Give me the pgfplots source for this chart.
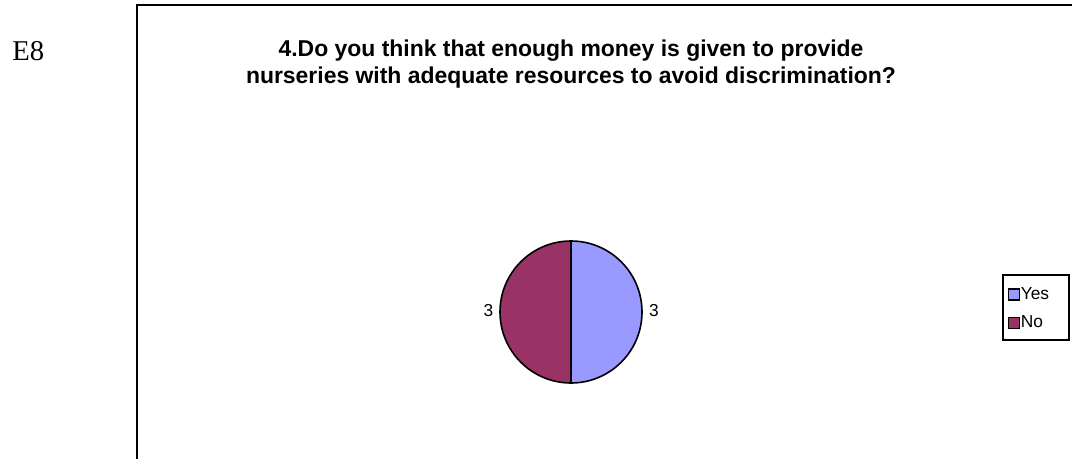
\documentclass[border=0pt]{standalone}
\usepackage{pgfplots}
\pgfplotsset{compat=1.18}
\usepackage{pgfplotstable}
\usepackage{fontspec}
\setmainfont{Liberation Sans}
\newfontfamily\timesfont{Liberation Serif}
\definecolor{yescol}{RGB}{153,153,255}
\definecolor{nocol}{RGB}{153,51,102}
\pgfplotstableread{
label value
Yes 3
No 3
}\piedata
\begin{document}
\begin{tikzpicture}
\pgfplotstablegetelem{0}{value}\of\piedata \let\vyes\pgfplotsretval
\pgfplotstablegetelem{1}{value}\of\piedata \let\vno\pgfplotsretval
\pgfmathsetmacro{\tot}{\vyes+\vno}
\pgfmathsetmacro{\aA}{90}
\pgfmathsetmacro{\aB}{90-360*\vyes/\tot}
\pgfmathsetmacro{\aC}{\aB-360*\vno/\tot}
\begin{axis}[
  name=ax,
  scale only axis, width=804pt, height=343.5pt,
  xmin=0, xmax=1072, ymin=0, ymax=458,
  hide axis, clip=false,
  legend style={at={(axis cs:1007.5,458-286.5)}, anchor=north west, draw=none, fill=none,
    font=\fontsize{13}{15}\selectfont, inner sep=0pt, row sep=9.5pt,
    nodes={inner sep=0.6pt},
    /tikz/every even column/.append style={column sep=0pt}},
  legend cell align=left,
  legend image code/.code={\draw[#1] (0pt,-4.1pt) rectangle (8.2pt,4.1pt);},
]
\addlegendimage{fill=yescol, draw=black, line width=1pt}
\addlegendentry{Yes}
\addlegendimage{fill=nocol, draw=black, line width=1pt}
\addlegendentry{No}
% legend box
\draw[line width=1pt] (axis cs:1003,458-275) rectangle (axis cs:1069,458-340);
% frame
\draw[line width=1.5pt] (axis cs:137,-20) -- (axis cs:137,453) -- (axis cs:1090,453);
% pie
\filldraw[fill=yescol, draw=black, line width=1.2pt] (axis cs:571,146) -- ++(\aA:53.25pt) arc[start angle=\aA, end angle=\aB, radius=53.25pt] -- cycle;
\filldraw[fill=nocol, draw=black, line width=1.2pt] (axis cs:571,146) -- ++(\aB:53.25pt) arc[start angle=\aB, end angle=\aC, radius=53.25pt] -- cycle;
\node[font=\fontsize{13}{15}\selectfont, anchor=base] at (axis cs:488.5,458-316) {\pgfmathprintnumber[assume math mode=true]{\vno}};
\node[font=\fontsize{13}{15}\selectfont, anchor=base] at (axis cs:654,458-316) {\pgfmathprintnumber[assume math mode=true]{\vyes}};
% title
\node[font=\fontsize{17.2}{20}\selectfont\bfseries, anchor=base] at (axis cs:571,458-56.5) {4.Do you think that enough money is given to provide};
\node[font=\fontsize{17.2}{20}\selectfont\bfseries, anchor=base] at (axis cs:571,458-83.5) {nurseries with adequate resources to avoid discrimination?};
% E8
\node[font=\timesfont\fontsize{21.5}{24}\selectfont, anchor=base west, inner sep=0pt] at (axis cs:12,458-61) {E8};
\end{axis}
\pgfresetboundingbox
\path[use as bounding box] (ax.south west) rectangle (ax.north east);
\end{tikzpicture}
\end{document}
